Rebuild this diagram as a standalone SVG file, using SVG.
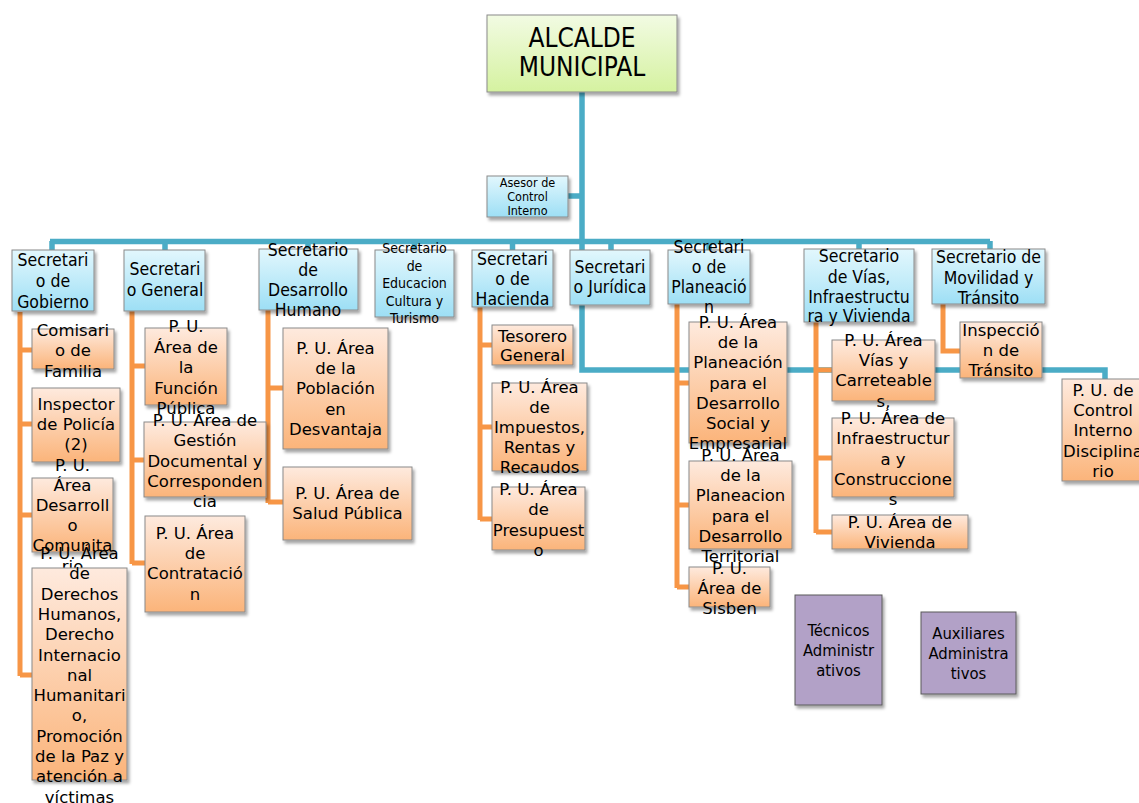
<svg xmlns="http://www.w3.org/2000/svg" width="1139" height="803" viewBox="0 0 1139 803">
<defs>
<linearGradient id="gGreen" x1="0" y1="0" x2="0" y2="1"><stop offset="0" stop-color="#f2fbe3"/><stop offset="1" stop-color="#d5f2a0"/></linearGradient>
<linearGradient id="gBlue" x1="0" y1="0" x2="0" y2="1"><stop offset="0" stop-color="#e2f7fd"/><stop offset="1" stop-color="#9ddff5"/></linearGradient>
<linearGradient id="gOrange" x1="0" y1="0" x2="0" y2="1"><stop offset="0" stop-color="#feeade"/><stop offset="1" stop-color="#fbb47a"/></linearGradient>
<filter id="sh" x="-20%" y="-20%" width="140%" height="140%"><feDropShadow dx="2" dy="3" stdDeviation="1.6" flood-color="#000" flood-opacity="0.35"/></filter>
<style>
.b{fill:url(#gBlue);stroke:#8a8a8a;stroke-width:1;filter:url(#sh)}
.o{fill:url(#gOrange);stroke:#8a8a8a;stroke-width:1;filter:url(#sh)}
.g{fill:url(#gGreen);stroke:#8a8a8a;stroke-width:1;filter:url(#sh)}
.p{fill:#b2a1c7;stroke:#5a5a5a;stroke-width:1;filter:url(#sh)}
text{fill:#000;text-anchor:middle}
.ts{font-family:"DejaVu Sans Condensed","DejaVu Sans",sans-serif;font-size:17.5px}
.tsm{font-family:"DejaVu Sans Condensed","DejaVu Sans",sans-serif;font-size:14px}
.tx{font-family:"DejaVu Sans Condensed","DejaVu Sans",sans-serif;font-size:12.5px}
.tb{font-family:"DejaVu Sans Condensed","DejaVu Sans",sans-serif;font-size:26px}
.tp{font-family:"DejaVu Sans Condensed","DejaVu Sans",sans-serif;font-size:16.5px}
.to{font-family:"DejaVu Sans",Verdana,sans-serif;font-size:16.5px}
.cb{fill:none;stroke:#4bacc6;stroke-width:5.5}
.co{fill:none;stroke:#f79646;stroke-width:5}
</style>
</defs>
<rect width="1139" height="803" fill="#fff"/>
<g id="connectors">
<path class="cb" d="M582,92 V370 H1105 V379 M568,196 H582 M50,241.5 H990 M52,241 V250 M165,241 V250 M308,241 V249 M414.5,241 V250 M512.5,241 V250 M611,241 V250 M709,241 V250 M859,241 V249 M990,241 V249"/>
<path class="co" d="M20,312 V676 M20,350 H32 M20,424 H32 M20,515 H32 M20,675 H32"/>
<path class="co" d="M132,311 V564 M132,366 H145 M132,460 H144 M132,563 H145"/>
<path class="co" d="M268,310 V503 M268,388 H283 M268,502 H283"/>
<path class="co" d="M480,307 V520 M480,345 H492 M480,427 H492 M480,519 H492"/>
<path class="co" d="M677,304 V588 M677,383 H689 M677,505 H689 M677,587 H689"/>
<path class="co" d="M816,322 V533 M816,370 H832 M816,458 H832 M816,532 H832"/>
<path class="co" d="M943,304 V351 H960"/>
</g>
<g id="alcalde"><rect class="g" x="487" y="15" width="190" height="77"/><text class="tb" x="582"><tspan x="582" y="47">ALCALDE</tspan><tspan x="582" y="76">MUNICIPAL</tspan></text></g>
<g id="asesor"><rect class="b" x="487" y="176" width="81" height="41"/><text class="tx"><tspan x="527.5" y="187">Asesor de</tspan><tspan x="527.5" y="201">Control</tspan><tspan x="527.5" y="215">Interno</tspan></text></g>

<g id="sec-gobierno"><rect class="b" x="12" y="250" width="82" height="61"/><text class="ts"><tspan x="53" y="266">Secretari</tspan><tspan x="53" y="287">o de</tspan><tspan x="53" y="308">Gobierno</tspan></text></g>
<g id="sec-general"><rect class="b" x="124" y="250" width="81" height="61"/><text class="ts"><tspan x="165" y="275">Secretari</tspan><tspan x="165" y="296">o General</tspan></text></g>
<g id="sec-desarrollo"><rect class="b" x="259" y="249" width="99" height="61"/><text class="ts"><tspan x="308" y="256">Secretario</tspan><tspan x="308" y="276">de</tspan><tspan x="308" y="296">Desarrollo</tspan><tspan x="308" y="316">Humano</tspan></text></g>
<g id="sec-educacion"><rect class="b" x="375" y="250" width="79" height="67"/><text class="tsm"><tspan x="414.5" y="253">Secretario</tspan><tspan x="414.5" y="270.5">de</tspan><tspan x="414.5" y="288">Educacion</tspan><tspan x="414.5" y="305.5">Cultura y</tspan><tspan x="414.5" y="323">Turismo</tspan></text></g>
<g id="sec-hacienda"><rect class="b" x="472" y="250" width="81" height="57"/><text class="ts"><tspan x="512.5" y="265">Secretari</tspan><tspan x="512.5" y="285">o de</tspan><tspan x="512.5" y="305">Hacienda</tspan></text></g>
<g id="sec-juridica"><rect class="b" x="570" y="250" width="80" height="55"/><text class="ts"><tspan x="610" y="273">Secretari</tspan><tspan x="610" y="293">o Jurídica</tspan></text></g>
<g id="sec-planeacion"><rect class="b" x="668" y="250" width="82" height="54"/><text class="ts"><tspan x="709" y="253">Secretari</tspan><tspan x="709" y="273">o de</tspan><tspan x="709" y="293">Planeació</tspan><tspan x="709" y="313">n</tspan></text></g>
<g id="sec-vias"><rect class="b" x="804" y="249" width="110" height="73"/><text class="ts"><tspan x="859" y="262">Secretario</tspan><tspan x="859" y="283">de Vías,</tspan><tspan x="859" y="303">Infraestructu</tspan><tspan x="859" y="322">ra y Vivienda</tspan></text></g>
<g id="sec-movilidad"><rect class="b" x="932" y="249" width="113" height="55"/><text class="ts"><tspan x="988.5" y="263">Secretario de</tspan><tspan x="988.5" y="284">Movilidad y</tspan><tspan x="988.5" y="304">Tránsito</tspan></text></g>

<g id="comisario"><rect class="o" x="32" y="329" width="82" height="40"/><text class="to"><tspan x="73" y="336">Comisari</tspan><tspan x="73" y="356">o de</tspan><tspan x="73" y="377">Familia</tspan></text></g>
<g id="inspector"><rect class="o" x="32" y="388" width="88" height="74"/><text class="to"><tspan x="76" y="410">Inspector</tspan><tspan x="76" y="430">de Policía</tspan><tspan x="76" y="450">(2)</tspan></text></g>
<g id="comunitario"><rect class="o" x="32" y="478" width="81" height="74"/><text class="to"><tspan x="72.5" y="471">P. U.</tspan><tspan x="72.5" y="491">Área</tspan><tspan x="72.5" y="511">Desarroll</tspan><tspan x="72.5" y="531">o</tspan><tspan x="72.5" y="551">Comunita</tspan><tspan x="72.5" y="572">rio</tspan></text></g>
<g id="derechos"><rect class="o" x="32" y="568" width="95" height="212"/><text class="to"><tspan x="79.5" y="559">P. U. Área</tspan><tspan x="79.5" y="579.3">de</tspan><tspan x="79.5" y="599.6">Derechos</tspan><tspan x="79.5" y="619.9">Humanos,</tspan><tspan x="79.5" y="640.2">Derecho</tspan><tspan x="79.5" y="660.5">Internacio</tspan><tspan x="79.5" y="680.8">nal</tspan><tspan x="79.5" y="701.1">Humanitari</tspan><tspan x="79.5" y="721.4">o,</tspan><tspan x="79.5" y="741.7">Promoción</tspan><tspan x="79.5" y="762">de la Paz y</tspan><tspan x="79.5" y="782.3">atención a</tspan><tspan x="79.5" y="802.6">víctimas</tspan></text></g>

<g id="funcion"><rect class="o" x="145" y="328" width="82" height="77"/><text class="to"><tspan x="186" y="332">P. U.</tspan><tspan x="186" y="352.5">Área de</tspan><tspan x="186" y="373">la</tspan><tspan x="186" y="393.5">Función</tspan><tspan x="186" y="414">Pública</tspan></text></g>
<g id="gestion"><rect class="o" x="144" y="422" width="122" height="75"/><text class="to"><tspan x="205" y="426">P. U. Área de</tspan><tspan x="205" y="446">Gestión</tspan><tspan x="205" y="467">Documental y</tspan><tspan x="205" y="487">Corresponden</tspan><tspan x="205" y="507">cia</tspan></text></g>
<g id="contratacion"><rect class="o" x="145" y="516" width="100" height="96"/><text class="to"><tspan x="195" y="539">P. U. Área</tspan><tspan x="195" y="559">de</tspan><tspan x="195" y="579">Contratació</tspan><tspan x="195" y="600">n</tspan></text></g>

<g id="poblacion"><rect class="o" x="283" y="328" width="105" height="121"/><text class="to"><tspan x="335.5" y="354">P. U. Área</tspan><tspan x="335.5" y="374">de la</tspan><tspan x="335.5" y="394">Población</tspan><tspan x="335.5" y="415">en</tspan><tspan x="335.5" y="435">Desvantaja</tspan></text></g>
<g id="salud"><rect class="o" x="283" y="467" width="129" height="73"/><text class="to"><tspan x="347.5" y="499">P. U. Área de</tspan><tspan x="347.5" y="519">Salud Pública</tspan></text></g>

<g id="tesorero"><rect class="o" x="492" y="325" width="81" height="40"/><text class="to"><tspan x="532.5" y="342">Tesorero</tspan><tspan x="532.5" y="361">General</tspan></text></g>
<g id="impuestos"><rect class="o" x="492" y="383" width="95" height="88"/><text class="to"><tspan x="539.5" y="393">P. U. Área</tspan><tspan x="539.5" y="413">de</tspan><tspan x="539.5" y="433">Impuestos,</tspan><tspan x="539.5" y="453">Rentas y</tspan><tspan x="539.5" y="473">Recaudos</tspan></text></g>
<g id="presupuesto"><rect class="o" x="492" y="487" width="93" height="63"/><text class="to"><tspan x="538.5" y="495">P. U. Área</tspan><tspan x="538.5" y="515">de</tspan><tspan x="538.5" y="536">Presupuest</tspan><tspan x="538.5" y="556">o</tspan></text></g>

<g id="plan-social"><rect class="o" x="689" y="322" width="98" height="121"/><text class="to"><tspan x="738" y="328">P. U. Área</tspan><tspan x="738" y="348.2">de la</tspan><tspan x="738" y="368.4">Planeación</tspan><tspan x="738" y="388.6">para el</tspan><tspan x="738" y="408.8">Desarrollo</tspan><tspan x="738" y="429">Social y</tspan><tspan x="738" y="449.2">Empresarial</tspan></text></g>
<g id="plan-territorial"><rect class="o" x="689" y="461" width="103" height="88"/><text class="to"><tspan x="740.5" y="461">P. U. Área</tspan><tspan x="740.5" y="481.2">de la</tspan><tspan x="740.5" y="501.4">Planeacion</tspan><tspan x="740.5" y="521.6">para el</tspan><tspan x="740.5" y="541.8">Desarrollo</tspan><tspan x="740.5" y="562">Territorial</tspan></text></g>
<g id="sisben"><rect class="o" x="689" y="567" width="81" height="40"/><text class="to"><tspan x="729.5" y="574">P. U.</tspan><tspan x="729.5" y="594">Área de</tspan><tspan x="729.5" y="614">Sisben</tspan></text></g>

<g id="vias"><rect class="o" x="832" y="340" width="103" height="61"/><text class="to"><tspan x="883.5" y="346">P. U. Área</tspan><tspan x="883.5" y="366">Vías y</tspan><tspan x="883.5" y="386">Carreteable</tspan><tspan x="883.5" y="407">s,</tspan></text></g>
<g id="infraestructura"><rect class="o" x="832" y="418" width="122" height="79"/><text class="to"><tspan x="893" y="424">P. U. Área de</tspan><tspan x="893" y="444">Infraestructur</tspan><tspan x="893" y="465">a y</tspan><tspan x="893" y="485">Construccione</tspan><tspan x="893" y="505">s</tspan></text></g>
<g id="vivienda"><rect class="o" x="832" y="515" width="136" height="34"/><text class="to"><tspan x="900" y="528">P. U. Área de</tspan><tspan x="900" y="548">Vivienda</tspan></text></g>

<g id="inspeccion"><rect class="o" x="960" y="322" width="82" height="56"/><text class="to"><tspan x="1001" y="336">Inspecció</tspan><tspan x="1001" y="356">n de</tspan><tspan x="1001" y="376">Tránsito</tspan></text></g>
<g id="control-disciplinario"><rect class="o" x="1062" y="379" width="85" height="102"/><text class="to"><tspan x="1103" y="396">P. U. de</tspan><tspan x="1103" y="416">Control</tspan><tspan x="1103" y="436">Interno</tspan><tspan x="1103" y="457">Disciplina</tspan><tspan x="1103" y="477">rio</tspan></text></g>

<g id="tecnicos"><rect class="p" x="795" y="595" width="87" height="110"/><text class="tp"><tspan x="838.5" y="636">Técnicos</tspan><tspan x="838.5" y="656">Administr</tspan><tspan x="838.5" y="676">ativos</tspan></text></g>
<g id="auxiliares"><rect class="p" x="921" y="612" width="95" height="82"/><text class="tp"><tspan x="968.5" y="639">Auxiliares</tspan><tspan x="968.5" y="659">Administra</tspan><tspan x="968.5" y="679">tivos</tspan></text></g>
</svg>
